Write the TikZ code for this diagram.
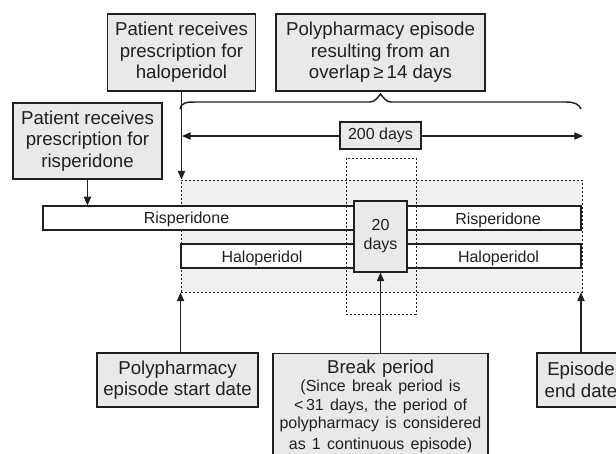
\documentclass[tikz,border=0pt]{standalone}
\usepackage{fontspec}
\setmainfont{Liberation Sans}
\usetikzlibrary{arrows.meta}
\definecolor{ink}{HTML}{231F20}
\definecolor{boxgray}{HTML}{E9E9E9}
\definecolor{regiongray}{HTML}{F0F0F0}
\tikzset{
 lbl/.style={draw=ink, fill=boxgray, line width=0.8pt, align=center, text=ink, font=\fontsize{14}{16.2}\selectfont, inner sep=0pt},
 bar/.style={draw=ink, fill=white, line width=0.9pt, inner sep=0pt, minimum height=18pt},
 small/.style={font=\fontsize{12}{14}\selectfont, text=ink, inner sep=0pt},
 dots/.style={draw=ink, line width=0.7pt, dash pattern=on 1.5pt off 1.5pt},
 arr/.style={draw=ink, line width=0.8pt, -{Triangle[length=6.5pt,width=5.5pt]}},
 darr/.style={draw=ink, line width=0.8pt, {Triangle[length=6.5pt,width=5.5pt]}-{Triangle[length=6.5pt,width=5.5pt]}},
}
\begin{document}
\begin{tikzpicture}[x=0.75pt,y=-0.75pt]
\clip (0,0) rectangle (616,453);
\fill[white] (0,0) rectangle (616,453);

% shaded polypharmacy region
\node[dots, fill=regiongray, minimum width=300.75pt, minimum height=84pt, inner sep=0pt] (region) at (381.5,236) {};

% drug bars
\node[bar, minimum width=233.25pt] (r1) at (198.5,218) {};
\node[bar, minimum width=129.75pt] (h1) at (267.5,256) {};
\node[bar, minimum width=130.5pt] (r2) at (494,218) {};
\node[bar, minimum width=130.5pt] (h2) at (494,256) {};
\node[small, anchor=base] (r1t) at (186.5,223) {Risperidone};
\node[small, anchor=base] (h1t) at (262,262) {Haloperidol};
\node[small, anchor=base] (r2t) at (498,224) {Risperidone};
\node[small, anchor=base] (h2t) at (498.5,262) {Haloperidol};

% break gap box
\node[lbl, font=\fontsize{12}{14.2}\selectfont, minimum width=39.75pt, minimum height=53.25pt] (twenty) at (380.5,236.5) {20\\days};

% dotted break period frame
\node[dots, minimum width=52.5pt, minimum height=117pt, inner sep=0pt] (brk) at (381,236) {};

% top boxes
\node[lbl, minimum width=111pt, minimum height=57.75pt] (halo) at (181.5,52.5) {Patient receives\\prescription for\\haloperidol};
\node[lbl, minimum width=111.75pt, minimum height=57pt] (risp) at (87.5,141) {Patient receives\\prescription for\\risperidone};
\node[lbl, minimum width=156.75pt, minimum height=57.75pt] (poly) at (380.5,52.5) {Polypharmacy episode\\resulting from an\\overlap\,≥\,14 days};

% brace
\draw[ink, line width=1.1pt] (180,109) .. controls (181,103) and (186,102) .. (195,102) -- (370,102) .. controls (375,102) and (378,97) .. (380.5,94) .. controls (383,97) and (386,102) .. (391,102) -- (566,102) .. controls (574,102) and (579,104) .. (581,109);

% 200 days arrow
\coordinate (d1) at (182,136);
\coordinate (d2) at (583,136);
\draw[darr] (d1) -- (d2);
\node[lbl, font=\fontsize{12}{14}\selectfont, minimum width=60.75pt, minimum height=20.25pt] (dur) at (380.5,135.5) {200 days};

% bottom boxes
\node[lbl, minimum width=120.75pt, minimum height=40.5pt] (start) at (177.5,380) {Polypharmacy\\episode start date};
\node[lbl, minimum width=66pt, minimum height=40.5pt] (endbox) at (581,380) {Episode\\end date};
\node[lbl, anchor=north, text width=161.25pt, inner xsep=0pt, inner ysep=5pt, font=\fontsize{14}{16}\selectfont] (brkbox) at (380.5,353) {Break period\par\fontsize{12}{13.7}\selectfont (Since break period is\\ <\,31 days, the period of\\ polypharmacy is considered\\ as 1 continuous episode)};

% arrows
\draw[arr] (halo.south) -- (halo.south |- region.north);
\draw[arr] (risp.south) -- (risp.south |- r1.north);
\draw[arr] (start.north -| region.west) -- (region.south west);
\draw[arr] (brkbox.north) -- (twenty.south);
\draw[arr] (endbox.north) -- (endbox.north |- region.south);
\end{tikzpicture}
\end{document}
